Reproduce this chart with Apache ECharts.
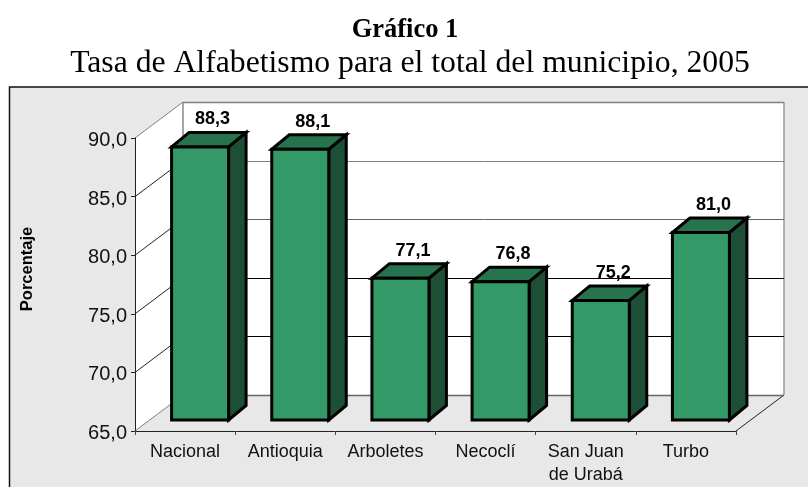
<!DOCTYPE html>
<html>
<head>
<meta charset="utf-8">
<style>
  html, body { margin: 0; padding: 0; background: #fff; }
  #chart { width: 808px; height: 487px; }
</style>
<script src="https://cdn.jsdelivr.net/npm/echarts@6/dist/echarts.min.js"></script>
</head>
<body>
<div id="chart"></div>
<script>
const categories = ['Nacional', 'Antioquia', 'Arboletes', 'Necoclí', 'San Juan\nde Urabá', 'Turbo']
const values = [88.3, 88.1, 77.1, 76.8, 75.2, 81.0]
const yTicks = [65, 70, 75, 80, 85, 90]

const chart = echarts.init(document.getElementById('chart'))

// depth of the fake 3D box, in pixels
const wallDx = 48
const wallDy = -36
const barShiftX = 15
const barShiftY = -11
const barDx = 17.5
const barDy = -14.5
const barHalf = 28.5

const sans = '"Liberation Sans", Arial, sans-serif'
const serif = '"Liberation Serif", "Times New Roman", serif'

const fmt = v => v.toFixed(1).replace('.', ',')

function renderWalls(params, api) {
  const c = params.coordSys
  const l = c.x, r = c.x + c.width, t = c.y, b = c.y + c.height
  return {
    type: 'group',
    children: [
      { type: 'polygon', shape: { points: [[l + wallDx, t + wallDy], [r + wallDx, t + wallDy], [r + wallDx, b + wallDy], [l + wallDx, b + wallDy]] }, style: { fill: '#fff' } },
      { type: 'polygon', shape: { points: [[l, t], [l + wallDx, t + wallDy], [l + wallDx, b + wallDy], [l, b]] }, style: { fill: '#fff' } },
      { type: 'line', shape: { x1: l + wallDx, y1: t + wallDy, x2: l + wallDx, y2: b + wallDy }, style: { stroke: '#888', lineWidth: 1.5 } },
      { type: 'line', shape: { x1: r + wallDx, y1: t + wallDy, x2: r + wallDx, y2: b + wallDy }, style: { stroke: '#999', lineWidth: 1.5 } },
      { type: 'line', shape: { x1: r, y1: b, x2: r + wallDx, y2: b + wallDy }, style: { stroke: '#222', lineWidth: 1 } }
    ]
  }
}

// the picture's grid lines are not all the same grey
function gridColor(v) {
  if (v === 70 || v === 75) return '#000'
  if (v === 65 || v === 80) return '#666'
  return '#808080'
}

function renderGridLine(params, api) {
  const c = params.coordSys
  const v = api.value(0)
  const y = api.coord([0, v])[1]
  const backY = Math.round(y + wallDy) + 0.5
  const edge = v === 65 || v === 90
  return {
    type: 'group',
    children: [
      { type: 'line', shape: { x1: c.x, y1: y, x2: c.x + wallDx, y2: y + wallDy }, style: { stroke: edge ? '#808080' : '#222', lineWidth: 1 } },
      { type: 'line', shape: { x1: c.x + wallDx, y1: backY, x2: c.x + c.width + wallDx, y2: backY }, style: { stroke: gridColor(v), lineWidth: edge ? 1.5 : 1 } }
    ]
  }
}

function renderBar(params, api) {
  const top = api.coord([api.value(0), api.value(1)])
  const base = api.coord([api.value(0), 65])
  const x0 = top[0] + barShiftX - barHalf
  const x1 = top[0] + barShiftX + barHalf
  const y0 = top[1] + barShiftY
  const y1 = base[1] + barShiftY
  const stroke = { stroke: '#000', lineWidth: 3, lineJoin: 'miter' }
  return {
    type: 'group',
    children: [
      { type: 'polygon', shape: { points: [[x1, y0], [x1 + barDx, y0 + barDy], [x1 + barDx, y1 + barDy], [x1, y1]] }, style: Object.assign({ fill: '#1d4f36' }, stroke) },
      { type: 'polygon', shape: { points: [[x0, y0], [x0 + barDx, y0 + barDy], [x1 + barDx, y0 + barDy], [x1, y0]] }, style: Object.assign({ fill: '#26734d' }, stroke) },
      { type: 'rect', shape: { x: x0, y: y0, width: x1 - x0, height: y1 - y0 }, style: Object.assign({ fill: '#339966' }, stroke) },
      {
        type: 'text',
        x: top[0] + barShiftX + 12.5,
        y: y0 + barDy - 4,
        style: { text: fmt(api.value(1)), font: 'bold 18px ' + sans, fill: '#000', align: 'center', verticalAlign: 'bottom' }
      }
    ]
  }
}

chart.setOption({
  animation: false,
  backgroundColor: '#fff',
  graphic: [
    { type: 'rect', z: -10, shape: { x: 9.5, y: 87, width: 800, height: 402 }, style: { fill: '#e8e8e8', stroke: '#111', lineWidth: 1.5 } },
    { type: 'text', x: 405, y: 17, style: { text: 'Gráfico 1', font: 'bold 26.5px ' + serif, fill: '#000', align: 'center', verticalAlign: 'top' } },
    { type: 'text', x: 410, y: 48, style: { text: 'Tasa de Alfabetismo para el total del municipio, 2005', font: '31.7px ' + serif, fill: '#000', align: 'center', verticalAlign: 'top' } },
    { type: 'text', x: 27, y: 269, rotation: Math.PI / 2, style: { text: 'Porcentaje', font: 'bold 16.5px ' + sans, fill: '#000', align: 'center', verticalAlign: 'middle' } }
  ],
  grid: { left: 135, top: 138, width: 601, height: 294, containLabel: false },
  xAxis: {
    type: 'category',
    data: categories,
    z: 5,
    axisLine: { lineStyle: { color: '#222', width: 1 } },
    axisTick: { show: true, alignWithLabel: false, length: 4, lineStyle: { color: '#444' } },
    axisLabel: { color: '#111', fontFamily: sans, fontSize: 18, margin: 10, lineHeight: 23, interval: 0 }
  },
  yAxis: {
    type: 'value',
    min: 65,
    max: 90,
    interval: 5,
    z: 5,
    splitLine: { show: false },
    axisLine: { show: true, lineStyle: { color: '#222', width: 1 } },
    axisTick: { show: true, length: 4, lineStyle: { color: '#222' } },
    axisLabel: { color: '#111', fontFamily: sans, fontSize: 20, margin: 8, verticalAlign: 'top', lineHeight: 5, formatter: fmt }
  },
  series: [
    { type: 'custom', silent: true, z: 1, clip: false, data: [0], renderItem: renderWalls },
    { type: 'custom', silent: true, z: 2, clip: false, data: yTicks.map(v => [v]), encode: { y: 0 }, renderItem: renderGridLine },
    { type: 'custom', silent: true, z: 3, clip: false, data: values.map((v, i) => [i, v]), encode: { x: 0, y: 1 }, renderItem: renderBar }
  ]
})
</script>
</body>
</html>
